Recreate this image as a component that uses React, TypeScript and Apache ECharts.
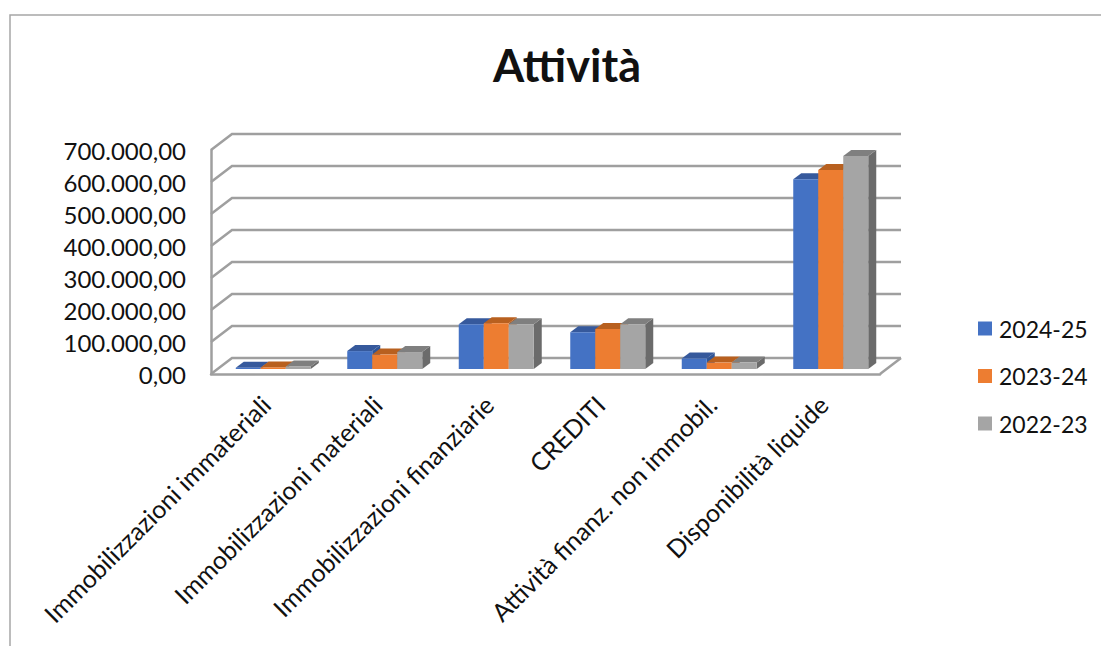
import React, { useEffect, useRef } from "react";
import * as echarts from "echarts";

const categories = [
  "Immobilizzazioni immateriali",
  "Immobilizzazioni materiali",
  "Immobilizzazioni finanziarie",
  "CREDITI",
  "Attività finanz. non immobil.",
  "Disponibilità liquide",
];
const values2425 = [4000, 56000, 140000, 115000, 33000, 593000];
const values2324 = [5000, 45000, 143000, 125000, 20000, 622000];
const values2223 = [8000, 53000, 140000, 140000, 20000, 666000];
const yTicks = [0, 100000, 200000, 300000, 400000, 500000, 600000, 700000];
const yTickLabels = ["0,00", "100.000,00", "200.000,00", "300.000,00", "400.000,00", "500.000,00", "600.000,00", "700.000,00"];

const seriesDefs = [
  { name: "2024-25", values: values2425, color: "#4472C4", top: "#36599C", side: "#2F5597" },
  { name: "2023-24", values: values2324, color: "#ED7D31", top: "#B8601F", side: "#AE5A21" },
  { name: "2022-23", values: values2223, color: "#A5A5A5", top: "#7F7F7F", side: "#6B6B6B" },
];

const FONT = "Lato";
const GRID_COLOR = "#9F9F9F";
const WALL_DX = 21, WALL_DY = -16;
const BAR_OFF_X = 6.5, BAR_OFF_Y = -5, BAR_W = 25, DEPTH_X = 8, DEPTH_Y = -6;

function barSeries(def: typeof seriesDefs[number], s: number) {
  return {
    type: "custom",
    name: def.name,
    xAxisIndex: 0,
    yAxisIndex: 0,
    coordinateSystem: "cartesian2d",
    clip: false,
    z: 5,
    itemStyle: { color: def.color },
    encode: { x: 0, y: 1 },
    data: def.values.map((v, i) => [i, v]),
    renderItem: (_p: any, api: any) => {
      const [cx, yTop] = api.coord([api.value(0), api.value(1)]);
      const [, yZero] = api.coord([api.value(0), 0]);
      const x0 = cx - 1.5 * BAR_W + s * BAR_W + BAR_OFF_X;
      const x1 = x0 + BAR_W;
      const yt = yTop + BAR_OFF_Y;
      const yb = yZero + BAR_OFF_Y;
      return {
        type: "group",
        children: [
          { type: "polygon", shape: { points: [[x1, yb], [x1 + DEPTH_X, yb + DEPTH_Y], [x1 + DEPTH_X, yt + DEPTH_Y], [x1, yt]] }, style: { fill: def.side } },
          { type: "polygon", shape: { points: [[x0, yt], [x1, yt], [x1 + DEPTH_X, yt + DEPTH_Y], [x0 + DEPTH_X, yt + DEPTH_Y]] }, style: { fill: def.top } },
          { type: "rect", shape: { x: x0, y: yt, width: BAR_W, height: yb - yt }, style: { fill: def.color } },
        ],
      };
    },
  };
}

const option: any = {
  animation: false,
  backgroundColor: "#fff",
  title: {
    text: "Attività",
    left: 562,
    top: 37,
    textAlign: "center",
    textStyle: { fontFamily: FONT, fontSize: 45, fontWeight: "bold", color: "#111" },
  },
  legend: {
    orient: "vertical",
    left: 973,
    top: 312,
    itemWidth: 14,
    itemHeight: 14,
    itemGap: 24.5,
    icon: "rect",
    data: seriesDefs.map((d) => d.name),
    textStyle: { fontFamily: FONT, fontSize: 23, color: "#111", padding: [0, 0, 0, 2] },
  },
  grid: [
    { left: 211, top: 150, width: 669, height: 224 },
    { left: 210, top: 150, width: 669, height: 224 },
  ],
  xAxis: [
    {
      type: "category", gridIndex: 0, data: categories,
      axisLine: { show: true, lineStyle: { color: GRID_COLOR, width: 2.5 } },
      axisTick: { show: false }, axisLabel: { show: false },
    },
    {
      type: "category", gridIndex: 1, data: categories,
      axisLine: { show: false }, axisTick: { show: false },
      axisLabel: { interval: 0, rotate: 45, margin: 26, fontFamily: FONT, fontSize: 25, color: "#111" },
    },
  ],
  yAxis: [
    {
      type: "value", gridIndex: 0, min: 0, max: 700000, interval: 100000,
      axisLine: { show: true, lineStyle: { color: GRID_COLOR, width: 2.5 } },
      axisTick: { show: false }, splitLine: { show: false },
      axisLabel: {
        margin: 25, fontFamily: FONT, fontSize: 24, color: "#111",
        formatter: (v: number) => yTickLabels[yTicks.indexOf(v)] ?? "",
      },
    },
    { type: "value", gridIndex: 1, min: 0, max: 700000, interval: 100000, show: false },
  ],
  graphic: [
    {
      type: "polyline",
      shape: { points: [[10, 646], [10, 15], [1101, 15]] },
      style: { stroke: "#A6A6A6", lineWidth: 1.5, fill: "none" },
    },
  ],
  series: [
    {
      type: "custom",
      name: "walls",
      xAxisIndex: 0,
      yAxisIndex: 0,
      clip: false,
      z: 1,
      encode: { x: 0, y: 1 },
      data: yTicks.map((t) => [0, t]),
      renderItem: (p: any, api: any) => {
        const y = api.coord([0, api.value(1)])[1];
        const { x, width } = p.coordSys;
        const stroke = { stroke: GRID_COLOR, lineWidth: 2.5, fill: "none" };
        const children: any[] = [
          { type: "polyline", shape: { points: [[x, y], [x + WALL_DX, y + WALL_DY], [x + width + WALL_DX, y + WALL_DY]] }, style: stroke },
        ];
        if (api.value(1) === 0) {
          children.push({ type: "line", shape: { x1: x + width, y1: y, x2: x + width + WALL_DX, y2: y + WALL_DY }, style: stroke });
        }
        return { type: "group", children };
      },
    },
    ...seriesDefs.map(barSeries),
  ],
};

export default function App() {
  const ref = useRef<HTMLDivElement>(null);
  useEffect(() => {
    const chart = echarts.init(ref.current!, undefined, { renderer: "svg" });
    chart.setOption(option);
    return () => chart.dispose();
  }, []);
  return <div ref={ref} style={{ position: "fixed", left: 0, top: 0, width: 1101, height: 646 }} />;
}
